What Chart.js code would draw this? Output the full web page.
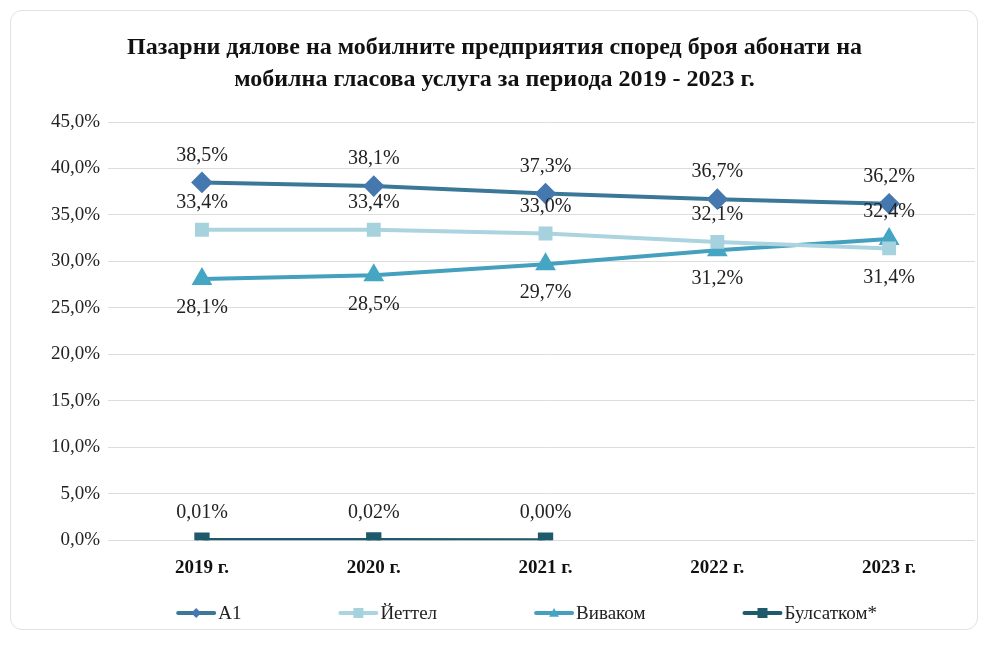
<!DOCTYPE html>
<html>
<head>
<meta charset="utf-8">
<script src="https://cdn.jsdelivr.net/npm/chart.js@4"></script>
<style>
  html, body { margin: 0; padding: 0; background: #fff; }
  #card {
    position: absolute; left: 10px; top: 10px; width: 966px; height: 618px;
    border: 1px solid #e2e2e2; border-radius: 12px; background: #fff;
  }
  #wrap { position: absolute; left: 0; top: 0; width: 989px; height: 646px; }
</style>
</head>
<body>
<div id="card"></div>
<div id="wrap"><canvas id="chart"></canvas></div>
<script>
// Данни
const years = ['2019 г.', '2020 г.', '2021 г.', '2022 г.', '2023 г.'];
const a1 = [38.5, 38.1, 37.3, 36.7, 36.2];
const yettel = [33.4, 33.4, 33.0, 32.1, 31.4];
const vivacom = [28.1, 28.5, 29.7, 31.2, 32.4];
const bulsatcom = [0.01, 0.02, 0.00, null, null];

const titleLines = ['Пазарни дялове на мобилните предприятия според броя абонати на',
                    'мобилна гласова услуга за периода 2019 - 2023 г.'];

const serif = "'Liberation Serif', 'Times New Roman', serif";

// Къде стои етикетът спрямо точката
const labelSide = {
    'A1': ['top', 'top', 'top', 'top', 'top'],
    'Йеттел': ['top', 'top', 'top', 'top', 'bottom'],
    'Виваком': ['bottom', 'bottom', 'bottom', 'bottom', 'top'],
    'Булсатком*': ['top', 'top', 'top', 'top', 'top']
};

function drawMarker(g, style, x, y, r) {
    g.beginPath();
    if (style === 'rectRot') {
        g.moveTo(x, y - r); g.lineTo(x + r, y); g.lineTo(x, y + r); g.lineTo(x - r, y);
    } else if (style === 'triangle') {
        g.moveTo(x, y - r); g.lineTo(x + r, y + r * 0.75); g.lineTo(x - r, y + r * 0.75);
    } else {
        g.rect(x - r, y - r, 2 * r, 2 * r);
    }
    g.closePath();
    g.fill();
}

function makeSet(label, data, lineColor, pointColor, style, radius, decimals) {
    return {
        label: label,
        data: data,
        borderColor: lineColor,
        backgroundColor: pointColor,
        pointBackgroundColor: pointColor,
        pointBorderColor: pointColor,
        pointStyle: style,
        pointRadius: radius,
        pointHoverRadius: radius,
        borderWidth: 4,
        tension: 0,
        decimals: decimals
    };
}

const datasets = [
    makeSet('A1', a1, '#3B7897', '#4578AE', 'rectRot', 8, 1),
    makeSet('Йеттел', yettel, '#ABD4E0', '#A6D2DE', 'rect', 7, 1),
    makeSet('Виваком', vivacom, '#45A0BE', '#45A6C4', 'triangle', 8, 1),
    makeSet('Булсатком*', bulsatcom, '#1E5A6B', '#1E5A6B', 'rect', 8, 2)
];

// Заглавие, центрирано спрямо цялата картинка
const centeredTitle = {
    id: 'centeredTitle',
    afterDraw(chart) {
        const ctx = chart.ctx;
        ctx.save();
        ctx.font = 'bold 24px ' + serif;
        ctx.fillStyle = '#111';
        ctx.textAlign = 'center';
        ctx.textBaseline = 'middle';
        titleLines.forEach((t, i) => ctx.fillText(t, chart.width / 2, 48 + i * 32));
        ctx.restore();
    }
};

// Етикети над/под точките
const valueLabels = {
    id: 'valueLabels',
    afterDatasetsDraw(chart) {
        const ctx = chart.ctx;
        ctx.save();
        ctx.font = '20px ' + serif;
        ctx.fillStyle = '#222';
        ctx.textAlign = 'center';
        ctx.textBaseline = 'middle';
        chart.data.datasets.forEach((ds, i) => {
            const meta = chart.getDatasetMeta(i);
            meta.data.forEach((pt, j) => {
                const v = ds.data[j];
                if (v === null || v === undefined) return;
                const side = labelSide[ds.label][j];
                const dy = side === 'top' ? -27 : 29;
                const txt = v.toFixed(ds.decimals).replace('.', ',') + '%';
                ctx.fillText(txt, pt.x, pt.y + dy);
            });
        });
        ctx.restore();
    }
};

// Легенда: линия с маркер + текст, под оста
const lineLegend = {
    id: 'lineLegend',
    afterDraw(chart) {
        const ctx = chart.ctx;
        const area = chart.chartArea;
        const iconW = 40, gap = 97, y = 613;
        ctx.save();
        ctx.font = '19px ' + serif;
        const items = chart.data.datasets.map(ds => ({ ds: ds, w: iconW + 2 + ctx.measureText(ds.label).width }));
        const total = items.reduce((s, it) => s + it.w, 0) + gap * (items.length - 1);
        let x = (area.left + area.right) / 2 - 19 - total / 2;
        items.forEach(it => {
            const ds = it.ds;
            ctx.strokeStyle = ds.borderColor;
            ctx.lineWidth = 4;
            ctx.lineCap = 'round';
            ctx.beginPath(); ctx.moveTo(x + 2, y); ctx.lineTo(x + iconW - 2, y); ctx.stroke();
            ctx.fillStyle = ds.pointBackgroundColor;
            drawMarker(ctx, ds.pointStyle, x + iconW / 2, y, 5);
            ctx.fillStyle = '#222';
            ctx.textAlign = 'left';
            ctx.textBaseline = 'middle';
            ctx.fillText(ds.label, x + iconW + 2, y + 1);
            x += it.w + gap;
        });
        ctx.restore();
    }
};

new Chart(document.getElementById('chart'), {
    type: 'line',
    data: { labels: years, datasets: datasets },
    plugins: [centeredTitle, valueLabels, lineLegend],
    options: {
        responsive: true,
        maintainAspectRatio: false,
        animation: false,
        layout: { padding: { left: 43, right: 14, top: 122, bottom: 59 } },
        plugins: {
            title: { display: false },
            legend: { display: false },
            tooltip: { enabled: false }
        },
        scales: {
            x: {
                offset: true,
                grid: { display: false },
                border: { display: false },
                ticks: { color: '#111', font: { family: serif, size: 19, weight: 'bold' }, padding: 8 }
            },
            y: {
                min: 0,
                max: 45,
                ticks: {
                    stepSize: 5,
                    color: '#222',
                    padding: 8,
                    font: { family: serif, size: 19 },
                    callback: v => v.toFixed(1).replace('.', ',') + '%'
                },
                grid: { color: '#dcdcdc', lineWidth: 1 },
                border: { display: false }
            }
        }
    }
});
</script>
</body>
</html>
